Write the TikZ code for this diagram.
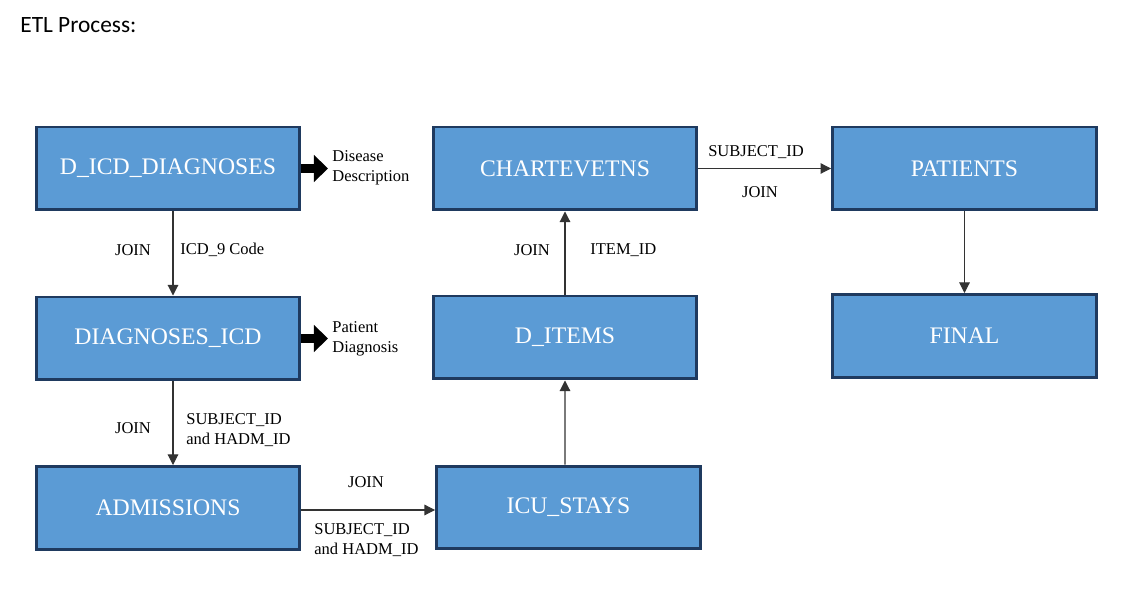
\documentclass[tikz,border=0pt]{standalone}
\usepackage{fontspec}
\setmainfont{Liberation Serif}
\newfontfamily\headfont{Carlito}
\usetikzlibrary{arrows.meta, positioning}
\definecolor{tableblue}{HTML}{5B9BD5}
\definecolor{tableedge}{HTML}{1F3A5F}
\tikzset{
    table/.style = {
        rectangle,
        draw = tableedge,
        line width = 1.7pt,
        fill = tableblue,
        minimum width = 5.28cm,
        minimum height = 1.66cm,
        text = white,
        font = \fontsize{13.5}{15}\selectfont
    },
    link/.style = {
        draw = black!80,
        line width = 0.6pt,
        -{Triangle[length=6pt, width=6pt]}
    },
    lbl/.style = {
        inner sep = 0pt,
        align = left,
        font = \fontsize{9.4}{11.4}\selectfont
    },
    fat/.style = {
        line width = 5.6pt,
        -{Triangle[length=8pt, width=15pt]}
    }
}

\begin{document}
\begin{tikzpicture}[x=0.02cm, y=-0.02cm]
    \useasboundingbox (0,0) rectangle (1129,607);
    \node[anchor=base west, inner sep=0pt, font=\headfont\fontsize{13.3}{16}\selectfont] (title) at (20,33) {ETL Process:};

    % tables
    \node[table] (dicd)  at (168,168.5)   {D\_ICD\_DIAGNOSES};
    \node[table] (diag)  at (168,338.5)   {DIAGNOSES\_ICD};
    \node[table] (adm)   at (168,508)     {ADMISSIONS};
    \node[table] (chart) at (565,168.5)   {CHARTEVETNS};
    \node[table] (items) at (565,337.5)   {D\_ITEMS};
    \node[table] (icu)   at (568.5,507.5) {ICU\_STAYS};
    \node[table] (pat)   at (964.5,168.5) {PATIENTS};
    \node[table] (final) at (964.5,336)   {FINAL};

    % joins
    \draw[link] ([xshift=0.1cm]dicd.south) -- ([xshift=0.1cm]diag.north);
    \draw[link] ([xshift=0.1cm]diag.south) -- ([xshift=0.1cm]adm.north);
    \draw[link] ([yshift=-0.04cm]adm.east) -- ([yshift=-0.04cm]adm.east -| icu.west);
    \draw[link] ([xshift=-0.07cm]icu.north) -- (items.south);
    \draw[link] (items.north) -- (chart.south);
    \draw[link] (chart.east) -- (pat.west);
    \draw[link] (pat.south) -- (final.north);

    \node[lbl] (j1) at (133,250) {JOIN};
    \node[lbl, anchor=west] (k1) at (180,250) {ICD\_9 Code};
    \node[lbl] (j2) at (133,428) {JOIN};
    \node[lbl, anchor=west] (k2) at (186,430) {SUBJECT\_ID\\and HADM\_ID};
    \node[lbl] (j3) at (366,482) {JOIN};
    \node[lbl, anchor=west] (k3) at (314,540) {SUBJECT\_ID\\and HADM\_ID};
    \node[lbl] (j4) at (532,250) {JOIN};
    \node[lbl, anchor=west] (k4) at (590,250) {ITEM\_ID};
    \node[lbl] (k5) at (756,152) {SUBJECT\_ID};
    \node[lbl] (j5) at (760,192) {JOIN};

    % outputs
    \coordinate (dout) at (328,168.5);
    \coordinate (pout) at (328,338.5);
    \draw[fat] (dicd.east) -- (dout);
    \draw[fat] (diag.east) -- (pout);
    \node[lbl, anchor=west] (dtxt) at (332,168) {Disease\\Description};
    \node[lbl, anchor=west] (ptxt) at (332,339) {Patient\\Diagnosis};
\end{tikzpicture}
\end{document}
